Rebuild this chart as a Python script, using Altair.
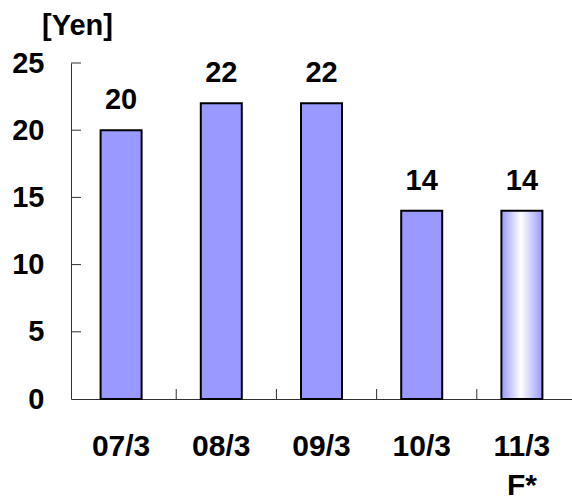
import altair as alt
import pandas as pd

# Dividend per share by fiscal year end (last one is a forecast)
periods = ["07/3", "08/3", "09/3", "10/3", "11/3"]
dividends = [20, 22, 22, 14, 14]
is_forecast = [False, False, False, False, True]
y_tick_values = [0, 5, 10, 15, 20, 25]

FONT = "Liberation Sans"
BAR_FILL = "#9999ff"
AXIS_GREY = "#303030"

df = pd.DataFrame({"period": periods, "yen": dividends, "forecast": is_forecast})
ticks_df = pd.DataFrame({"yen": y_tick_values[1:]})
bounds_df = pd.DataFrame({"period": periods[1:]})

x_scale = alt.Scale(domain=periods)
y_scale = alt.Scale(domain=[0, 25], nice=False)

x_axis = alt.Axis(
    title=None, labelAngle=0, ticks=False, grid=False, labelPadding=32,
    labelFont=FONT, labelFontSize=30, labelFontWeight="bold", labelColor="black",
    labelLineHeight=39,
    labelExpr="datum.value == '11/3' ? ['11/3', 'F*'] : datum.value",
    domainColor=AXIS_GREY, domainWidth=1,
)
y_axis = alt.Axis(
    values=y_tick_values, ticks=False, grid=False, labelPadding=27,
    labelFont=FONT, labelFontSize=29, labelFontWeight="bold", labelColor="black",
    domainColor=AXIS_GREY, domainWidth=1,
    title="[Yen]", titleAngle=0, titleFont=FONT, titleFontSize=29,
    titleFontWeight="bold", titleColor="black", titleAlign="center",
    titleBaseline="alphabetic", titleX=6, titleY=-29,
)

X = alt.X("period:N", sort=periods, scale=x_scale)
Y = alt.Y("yen:Q", scale=y_scale)

base = alt.Chart(df)

actual_bars = base.transform_filter("!datum.forecast").mark_bar(
    size=41, fill=BAR_FILL, stroke="black", strokeWidth=2
).encode(
    x=alt.X("period:N", sort=periods, scale=x_scale, axis=x_axis),
    y=alt.Y("yen:Q", scale=y_scale, axis=y_axis),
)

forecast_fill = alt.Gradient(
    gradient="linear",
    stops=[
        alt.GradientStop(color=BAR_FILL, offset=0),
        alt.GradientStop(color="#ffffff", offset=0.48),
        alt.GradientStop(color=BAR_FILL, offset=1),
    ],
    x1=0, x2=1, y1=0, y2=0,
)
forecast_bar = base.transform_filter("datum.forecast").mark_bar(
    size=41, fill=forecast_fill, stroke="black", strokeWidth=2
).encode(x=X, y=Y)

value_labels = base.mark_text(
    font=FONT, fontSize=29, fontWeight="bold", color="black",
    baseline="alphabetic", dy=-21,
).encode(x=X, y=Y, text="yen:Q")

# inward-pointing ticks on the value axis
y_ticks = alt.Chart(ticks_df).mark_rule(color=AXIS_GREY, strokeWidth=1).encode(
    y=Y, x=alt.value(0), x2=alt.value(10),
)

# inward-pointing ticks between categories
x_ticks = alt.Chart(bounds_df).mark_rule(color=AXIS_GREY, strokeWidth=1).encode(
    x=alt.X("period:N", sort=periods, scale=x_scale, bandPosition=0),
    y=alt.value(326), y2=alt.value(336),
)

chart = alt.layer(actual_bars, forecast_bar, value_labels, y_ticks, x_ticks).properties(
    width=501, height=336,
    background="white",
    autosize=alt.AutoSizeParams(type="none"),
    padding={"left": 71, "top": 63, "right": 0, "bottom": 100},
).configure_view(stroke=None)

chart.save("out.html", embed_options={"renderer": "svg", "actions": False})
